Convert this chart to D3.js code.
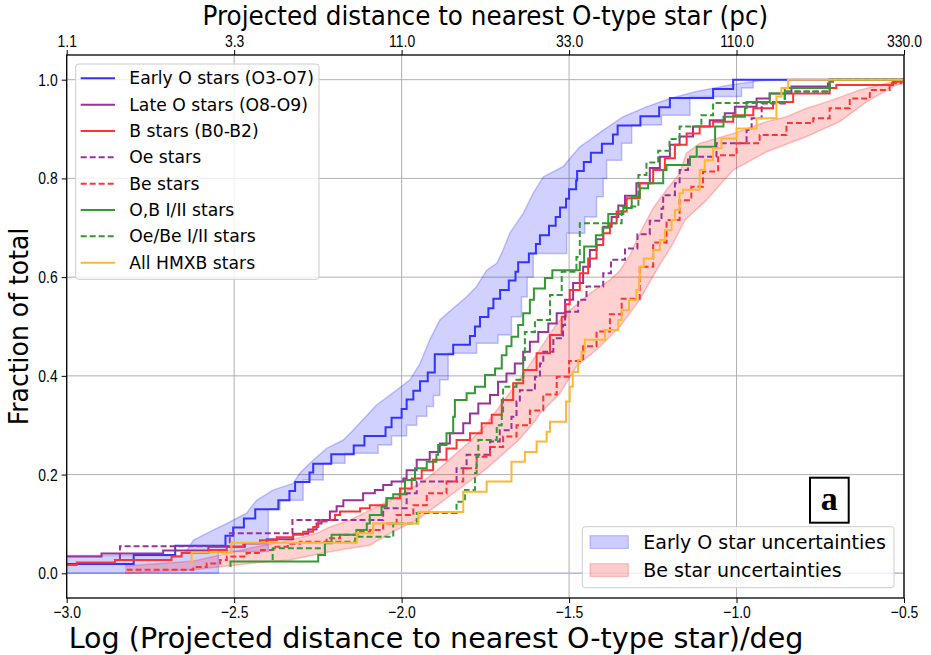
<!DOCTYPE html>
<html>
<head>
<meta charset="utf-8">
<script src="https://cdn.jsdelivr.net/npm/d3@7"></script>
<style>
  body { margin: 0; background: #fff; }
  svg { font-family: "DejaVu Sans", sans-serif; }
  .axis text { font-size: 17px; fill: #000; }
  .axis path, .axis line { stroke: #000; }
  .grid line { stroke: #b0b0b0; stroke-width: 1; }
</style>
</head>
<body>
<svg id="chart" width="931" height="655"></svg>
<script>
// ---- data: [log distance, cumulative fraction] ----
var xTicks = [-3.0, -2.5, -2.0, -1.5, -1.0, -0.5];
var topLabels = ["1.1", "3.3", "11.0", "33.0", "110.0", "330.0"];
var yTicks = [0.0, 0.2, 0.4, 0.6, 0.8, 1.0];

var earlyO = [[-3.0,0.019],[-2.800,0.037],[-2.676,0.056],[-2.526,0.076],[-2.503,0.093],[-2.471,0.111],[-2.437,0.130],
  [-2.368,0.148],[-2.335,0.167],[-2.318,0.185],[-2.275,0.204],[-2.264,0.222],[-2.210,0.241],[-2.143,0.259],[-2.111,0.278],
  [-2.048,0.296],[-2.030,0.315],[-2.000,0.333],[-1.985,0.352],[-1.965,0.370],[-1.945,0.389],[-1.922,0.407],[-1.901,0.444],
  [-1.846,0.463],[-1.796,0.481],[-1.781,0.500],[-1.766,0.519],[-1.741,0.537],[-1.726,0.556],[-1.706,0.574],[-1.680,0.593],
  [-1.660,0.611],[-1.652,0.630],[-1.620,0.648],[-1.599,0.667],[-1.587,0.685],[-1.560,0.704],[-1.540,0.722],[-1.527,0.741],
  [-1.509,0.759],[-1.500,0.778],[-1.479,0.796],[-1.476,0.815],[-1.456,0.833],[-1.435,0.852],[-1.402,0.870],[-1.369,0.889],
  [-1.355,0.907],[-1.287,0.926],[-1.231,0.944],[-1.199,0.963],[-1.070,0.981],[-1.010,1.0],[-0.5,1.0]];

var lateO = [[-3.0,0.034],[-2.896,0.040],[-2.712,0.046],[-2.577,0.054],[-2.468,0.061],[-2.403,0.069],[-2.324,0.080],
  [-2.279,0.089],[-2.254,0.101],[-2.239,0.108],[-2.214,0.125],[-2.194,0.136],[-2.174,0.148],[-2.115,0.162],[-2.080,0.169],
  [-2.055,0.179],[-2.030,0.186],[-1.995,0.192],[-1.985,0.209],[-1.955,0.230],[-1.916,0.246],[-1.886,0.263],[-1.856,0.284],
  [-1.816,0.304],[-1.796,0.324],[-1.771,0.344],[-1.736,0.361],[-1.712,0.388],[-1.687,0.405],[-1.662,0.425],[-1.637,0.449],
  [-1.617,0.469],[-1.592,0.489],[-1.562,0.506],[-1.537,0.527],[-1.512,0.554],[-1.488,0.588],[-1.458,0.621],[-1.438,0.655],
  [-1.418,0.677],[-1.398,0.702],[-1.373,0.722],[-1.353,0.745],[-1.333,0.765],[-1.299,0.790],[-1.259,0.821],[-1.229,0.844],
  [-1.199,0.868],[-1.170,0.885],[-1.130,0.905],[-1.080,0.918],[-1.035,0.932],[-1.005,0.945],[-0.940,0.962],[-0.901,0.972],
  [-0.836,0.986],[-0.722,1.0],[-0.5,1.0]];

var bStars = [[-3.0,0.017],[-2.970,0.022],[-2.856,0.027],[-2.687,0.034],[-2.657,0.041],[-2.577,0.047],[-2.522,0.054],
  [-2.473,0.061],[-2.423,0.067],[-2.373,0.073],[-2.324,0.078],[-2.294,0.084],[-2.264,0.094],[-2.249,0.105],[-2.224,0.108],
  [-2.199,0.118],[-2.184,0.125],[-2.124,0.132],[-2.095,0.138],[-2.045,0.152],[-2.005,0.172],[-1.970,0.192],[-1.940,0.209],
  [-1.906,0.230],[-1.866,0.253],[-1.836,0.270],[-1.796,0.284],[-1.761,0.304],[-1.731,0.321],[-1.701,0.351],[-1.667,0.385],
  [-1.637,0.412],[-1.597,0.446],[-1.557,0.483],[-1.522,0.520],[-1.510,0.545],[-1.498,0.574],[-1.468,0.608],[-1.443,0.638],
  [-1.418,0.665],[-1.398,0.689],[-1.378,0.709],[-1.358,0.733],[-1.328,0.760],[-1.289,0.790],[-1.249,0.817],[-1.214,0.841],
  [-1.184,0.868],[-1.149,0.891],[-1.110,0.905],[-1.070,0.915],[-1.010,0.928],[-0.950,0.942],[-0.891,0.955],[-0.831,0.972],
  [-0.722,0.983],[-0.702,0.989],[-0.533,0.996],[-0.508,1.0],[-0.5,1.0]];

var oeStars = [[-2.841,0.028],[-2.841,0.055],[-2.513,0.081],[-2.326,0.108],[-2.055,0.132],[-1.985,0.162],[-1.955,0.186],
  [-1.836,0.213],[-1.806,0.240],[-1.736,0.267],[-1.707,0.290],[-1.672,0.317],[-1.657,0.348],[-1.647,0.371],[-1.602,0.398],
  [-1.587,0.425],[-1.577,0.449],[-1.547,0.476],[-1.518,0.503],[-1.512,0.530],[-1.473,0.554],[-1.448,0.581],[-1.398,0.608],
  [-1.375,0.635],[-1.333,0.658],[-1.296,0.687],[-1.259,0.714],[-1.224,0.739],[-1.219,0.766],[-1.184,0.790],[-1.170,0.817],
  [-1.145,0.844],[-1.060,0.871],[-0.970,0.898],[-0.955,0.922],[-0.925,0.952],[-0.856,0.976],[-0.727,1.0],[-0.5,1.0]];

var beStars = [[-2.821,0.007],[-2.622,0.013],[-2.582,0.020],[-2.542,0.027],[-2.522,0.034],[-2.463,0.041],[-2.420,0.047],
  [-2.383,0.054],[-2.340,0.060],[-2.304,0.064],[-2.224,0.071],[-2.184,0.078],[-2.124,0.084],[-2.095,0.088],[-2.055,0.101],
  [-2.015,0.118],[-1.965,0.138],[-1.925,0.162],[-1.866,0.186],[-1.816,0.213],[-1.776,0.236],[-1.736,0.256],[-1.697,0.277],
  [-1.657,0.300],[-1.617,0.330],[-1.577,0.362],[-1.537,0.398],[-1.500,0.430],[-1.458,0.460],[-1.418,0.490],[-1.378,0.525],
  [-1.343,0.556],[-1.289,0.621],[-1.249,0.670],[-1.209,0.716],[-1.170,0.756],[-1.135,0.783],[-1.100,0.814],[-1.055,0.847],
  [-1.000,0.871],[-0.931,0.888],[-0.851,0.912],[-0.771,0.922],[-0.722,0.942],[-0.662,0.962],[-0.602,0.979],[-0.543,0.993],
  [-0.508,0.998],[-0.5,0.998]];

var obSuper = [[-2.511,0.013],[-2.511,0.024],[-2.249,0.037],[-2.229,0.061],[-2.209,0.078],[-2.135,0.088],[-2.104,0.101],
  [-2.095,0.118],[-2.060,0.135],[-2.045,0.152],[-2.025,0.160],[-1.990,0.189],[-1.960,0.213],[-1.925,0.226],[-1.896,0.240],
  [-1.891,0.260],[-1.866,0.284],[-1.846,0.317],[-1.841,0.351],[-1.806,0.365],[-1.781,0.378],[-1.751,0.402],[-1.721,0.415],
  [-1.701,0.442],[-1.687,0.460],[-1.672,0.479],[-1.652,0.503],[-1.637,0.527],[-1.617,0.554],[-1.605,0.577],[-1.572,0.598],
  [-1.550,0.614],[-1.468,0.630],[-1.455,0.662],[-1.420,0.685],[-1.400,0.700],[-1.383,0.728],[-1.338,0.740],[-1.313,0.763],
  [-1.289,0.780],[-1.264,0.790],[-1.219,0.817],[-1.209,0.827],[-1.139,0.844],[-1.119,0.864],[-1.064,0.905],[-1.039,0.925],
  [-0.975,0.942],[-0.970,0.955],[-0.901,0.972],[-0.856,0.983],[-0.722,0.996],[-0.712,1.0],[-0.5,1.0]];

var oeBeSuper = [[-2.385,0.027],[-2.385,0.051],[-2.229,0.064],[-2.139,0.074],[-2.025,0.101],[-1.955,0.122],[-1.836,0.145],
  [-1.811,0.169],[-1.781,0.203],[-1.776,0.236],[-1.771,0.270],[-1.716,0.300],[-1.701,0.321],[-1.697,0.378],[-1.657,0.392],
  [-1.637,0.432],[-1.632,0.489],[-1.602,0.513],[-1.557,0.564],[-1.522,0.611],[-1.478,0.641],[-1.468,0.709],[-1.343,0.743],
  [-1.293,0.807],[-1.269,0.832],[-1.234,0.856],[-1.200,0.880],[-1.170,0.905],[-1.105,0.928],[-1.070,0.953],[-0.856,0.976],
  [-0.722,1.0],[-0.5,1.0]];

var allHmxb = [[-2.627,0.020],[-2.627,0.042],[-2.508,0.062],[-2.134,0.081],[-2.085,0.101],[-1.950,0.124],[-1.816,0.165],
  [-1.746,0.186],[-1.672,0.226],[-1.632,0.246],[-1.597,0.267],[-1.567,0.287],[-1.557,0.307],[-1.509,0.348],[-1.498,0.378],
  [-1.489,0.408],[-1.473,0.432],[-1.463,0.449],[-1.453,0.473],[-1.393,0.493],[-1.353,0.513],[-1.343,0.533],[-1.321,0.554],
  [-1.299,0.574],[-1.291,0.594],[-1.289,0.621],[-1.277,0.638],[-1.249,0.655],[-1.229,0.675],[-1.214,0.695],[-1.194,0.716],
  [-1.184,0.736],[-1.170,0.770],[-1.160,0.777],[-1.110,0.817],[-1.095,0.837],[-1.070,0.861],[-1.045,0.881],[-1.000,0.901],
  [-0.940,0.922],[-0.881,0.966],[-0.866,0.983],[-0.846,1.0],[-0.5,1.0]];

// uncertainty bands: upper (left) edge and lower (right) edge
var earlyOHigh = [[-3.0,0.036],[-2.660,0.036],[-2.642,0.045],[-2.622,0.067],[-2.582,0.081],[-2.522,0.101],[-2.463,0.122],
  [-2.433,0.148],[-2.383,0.169],[-2.324,0.182],[-2.304,0.203],[-2.274,0.223],[-2.224,0.253],[-2.174,0.270],[-2.145,0.290],
  [-2.075,0.341],[-2.015,0.371],[-1.975,0.392],[-1.945,0.425],[-1.916,0.473],[-1.886,0.513],[-1.846,0.537],[-1.806,0.560],
  [-1.776,0.581],[-1.746,0.614],[-1.716,0.628],[-1.697,0.655],[-1.677,0.689],[-1.637,0.729],[-1.607,0.770],[-1.577,0.803],
  [-1.518,0.824],[-1.468,0.864],[-1.438,0.878],[-1.398,0.898],[-1.338,0.925],[-1.269,0.945],[-1.199,0.962],[-1.120,0.976],
  [-1.020,0.989],[-0.931,0.998],[-0.850,1.0]];
var earlyOLow = [[-3.0,0.0],[-2.547,0.044],[-2.398,0.130],[-2.363,0.148],[-2.294,0.189],[-2.234,0.223],[-2.169,0.243],
  [-2.070,0.260],[-2.030,0.278],[-1.985,0.300],[-1.955,0.318],[-1.925,0.338],[-1.905,0.360],[-1.886,0.392],[-1.861,0.446],
  [-1.776,0.466],[-1.712,0.483],[-1.672,0.520],[-1.642,0.560],[-1.625,0.600],[-1.607,0.648],[-1.507,0.689],[-1.453,0.722],
  [-1.418,0.763],[-1.398,0.800],[-1.388,0.837],[-1.343,0.871],[-1.313,0.908],[-1.224,0.928],[-1.139,0.966],[-0.985,0.983],
  [-0.950,1.0]];

var beHigh = [[-2.826,0.015],[-2.620,0.025],[-2.542,0.037],[-2.433,0.054],[-2.334,0.067],[-2.254,0.081],[-2.214,0.094],
  [-2.154,0.108],[-2.095,0.128],[-2.035,0.148],[-1.950,0.180],[-1.900,0.205],[-1.850,0.235],[-1.800,0.265],[-1.750,0.300],
  [-1.700,0.345],[-1.650,0.390],[-1.600,0.440],[-1.557,0.486],[-1.527,0.513],[-1.498,0.533],[-1.468,0.550],[-1.438,0.567],
  [-1.408,0.581],[-1.378,0.594],[-1.348,0.614],[-1.318,0.645],[-1.288,0.690],[-1.249,0.740],[-1.209,0.777],[-1.170,0.810],
  [-1.150,0.851],[-1.110,0.871],[-1.010,0.891],[-0.910,0.915],[-0.851,0.925],[-0.791,0.942],[-0.731,0.955],[-0.632,0.979],
  [-0.533,0.996],[-0.5,1.0]];
var beLow = [[-2.826,0.0],[-2.622,0.007],[-2.453,0.020],[-2.334,0.027],[-2.234,0.041],[-2.154,0.051],[-2.095,0.057],
  [-2.035,0.081],[-1.950,0.110],[-1.900,0.135],[-1.850,0.160],[-1.800,0.185],[-1.750,0.210],[-1.700,0.240],[-1.650,0.270],
  [-1.600,0.310],[-1.587,0.324],[-1.527,0.365],[-1.478,0.419],[-1.408,0.459],[-1.348,0.500],[-1.289,0.554],[-1.239,0.614],
  [-1.189,0.669],[-1.154,0.716],[-1.090,0.756],[-1.010,0.817],[-0.910,0.854],[-0.791,0.885],[-0.692,0.915],[-0.612,0.955],
  [-0.533,0.986],[-0.5,0.994]];

var series = [
  {name: "Early O stars (O3-O7)", data: earlyO, color: "#3333ff", dash: null},
  {name: "Late O stars (O8-O9)", data: lateO, color: "#993399", dash: null},
  {name: "B stars (B0-B2)", data: bStars, color: "#ff3333", dash: null},
  {name: "Oe stars", data: oeStars, color: "#993399", dash: "6,3"},
  {name: "Be stars", data: beStars, color: "#ff3333", dash: "6,3"},
  {name: "O,B I/II stars", data: obSuper, color: "#339933", dash: null},
  {name: "Oe/Be I/II stars", data: oeBeSuper, color: "#339933", dash: "6,3"},
  {name: "All HMXB stars", data: allHmxb, color: "#ffb733", dash: null}
];

var svg = d3.select("#chart"),
    margin = {top: 55, right: 27, bottom: 57, left: 66.7},
    width = +svg.attr("width") - margin.left - margin.right,
    height = +svg.attr("height") - margin.top - margin.bottom;

var x = d3.scaleLinear().domain([-3.0, -0.5]).range([0, width]),
    y = d3.scaleLinear().domain([-0.05, 1.05]).range([height, 0]);

var g = svg.append("g").attr("transform", "translate(" + margin.left + "," + margin.top + ")");

svg.append("defs").append("clipPath").attr("id", "clip")
  .append("rect").attr("width", width).attr("height", height);

// grid
g.append("g").attr("class", "grid").selectAll("line").data(xTicks).enter().append("line")
  .attr("x1", function(d) { return x(d); }).attr("x2", function(d) { return x(d); })
  .attr("y1", 0).attr("y2", height);
g.append("g").attr("class", "grid").selectAll("line").data(yTicks).enter().append("line")
  .attr("y1", function(d) { return y(d); }).attr("y2", function(d) { return y(d); })
  .attr("x1", 0).attr("x2", width);

var plot = g.append("g").attr("clip-path", "url(#clip)");

// zero line
plot.append("line").attr("x1", 0).attr("x2", width).attr("y1", y(0)).attr("y2", y(0))
  .attr("stroke", "#b8b8ee").attr("stroke-width", 1.5);

// expand a step-after edge into its corner points
function stepPoints(pts) {
  var out = [];
  pts.forEach(function(p, i) {
    if (i > 0) out.push([p[0], pts[i - 1][1]]);
    out.push(p);
  });
  return out;
}

var lin = d3.line().x(function(d) { return x(d[0]); }).y(function(d) { return y(d[1]); });
var step = d3.line().x(function(d) { return x(d[0]); }).y(function(d) { return y(d[1]); }).curve(d3.curveStepAfter);

function band(high, low, color) {
  var poly = high.concat(low.slice().reverse());
  plot.append("path").attr("d", lin(poly) + "Z")
    .attr("fill", color).attr("fill-opacity", 0.18).attr("stroke", "none");
  [high, low].forEach(function(edge) {
    plot.append("path").attr("d", lin(edge)).attr("fill", "none")
      .attr("stroke", color).attr("stroke-opacity", 0.22).attr("stroke-width", 1.5);
  });
}
band(earlyOHigh, stepPoints(earlyOLow), "#0000ff");
band(beHigh, beLow, "#ff0000");

series.forEach(function(s) {
  plot.append("path").attr("d", step(s.data))
    .attr("fill", "none").attr("stroke", s.color).attr("stroke-width", 2)
    .attr("stroke-dasharray", s.dash);
});

// axes (tick labels are set in a narrow face, as in the original)
var squeeze = 0.82;
g.append("g").attr("class", "axis").attr("transform", "translate(0," + height + ")")
  .call(d3.axisBottom(x).tickValues(xTicks).tickFormat(d3.format(".1f")).tickSize(5).tickPadding(3))
  .call(function(a) {
    a.select(".domain").remove();
    a.selectAll("text").attr("transform", "scale(" + squeeze + ",1)");
  });
g.append("g").attr("class", "axis")
  .call(d3.axisTop(x).tickValues(xTicks).tickFormat(function(d, i) { return topLabels[i]; }).tickSize(5).tickPadding(3))
  .call(function(a) {
    a.select(".domain").remove();
    a.selectAll("text").attr("transform", "scale(" + squeeze + ",1)");
  });
g.append("g").attr("class", "axis")
  .call(d3.axisLeft(y).tickValues(yTicks).tickFormat(d3.format(".1f")).tickSize(5).tickPadding(4))
  .call(function(a) {
    a.select(".domain").remove();
    a.selectAll("text").attr("x", -9 / squeeze).attr("transform", "scale(" + squeeze + ",1)");
  });

g.append("rect").attr("width", width).attr("height", height)
  .attr("fill", "none").attr("stroke", "#000").attr("stroke-width", 1.3);

// titles
function label(tx, ty, rot, sx, size, txt) {
  svg.append("g").attr("transform", "translate(" + tx + "," + ty + ") rotate(" + rot + ") scale(" + sx + ",1)")
    .append("text").attr("text-anchor", "middle").style("font-size", size + "px").text(txt);
}
label(margin.left + width / 2, 25, 0, 0.95, 26, "Projected distance to nearest O-type star (pc)");
label(436, 648, 0, 0.985, 29, "Log (Projected distance to nearest O-type star)/deg");
label(28, margin.top + height / 2, -90, 0.93, 27, "Fraction of total");

// legend for lines
var leg = svg.append("g").attr("transform", "translate(75.7,64)");
leg.append("rect").attr("width", 243.3).attr("height", 215.3).attr("rx", 3)
  .attr("fill", "#fff").attr("fill-opacity", 0.8).attr("stroke", "#cccccc");
series.forEach(function(s, i) {
  var yy = 14.3 + i * 26.34;
  leg.append("line").attr("x1", 5).attr("x2", 39.3).attr("y1", yy).attr("y2", yy)
    .attr("stroke", s.color).attr("stroke-width", 2).attr("stroke-dasharray", s.dash);
  leg.append("text").attr("x", 53.6).attr("y", yy).attr("dy", "0.35em")
    .style("font-size", "17.2px").text(s.name);
});

// legend for bands
var bands = [{name: "Early O star uncertainties", color: "#0000ff"}, {name: "Be star uncertainties", color: "#ff0000"}];
var leg2 = svg.append("g").attr("transform", "translate(582.3,526.7)");
leg2.append("rect").attr("width", 311.7).attr("height", 61).attr("rx", 3)
  .attr("fill", "#fff").attr("fill-opacity", 0.8).attr("stroke", "#cccccc");
bands.forEach(function(b, i) {
  var yy = 15.3 + i * 28;
  leg2.append("rect").attr("x", 7.7).attr("y", yy - 6.3).attr("width", 38.3).attr("height", 12.7)
    .attr("fill", b.color).attr("fill-opacity", 0.2).attr("stroke", b.color).attr("stroke-opacity", 0.25);
  leg2.append("text").attr("x", 61).attr("y", yy).attr("dy", "0.35em")
    .style("font-size", "19px").text(b.name);
});

// panel label
svg.append("rect").attr("x", 810).attr("y", 477.7).attr("width", 38.7).attr("height", 45)
  .attr("fill", "#fff").attr("stroke", "#000").attr("stroke-width", 2);
svg.append("text").attr("x", 829.3).attr("y", 510).attr("text-anchor", "middle")
  .style("font-family", "'Liberation Serif', serif").style("font-weight", "bold").style("font-size", "34px").text("a");
</script>
</body>
</html>
